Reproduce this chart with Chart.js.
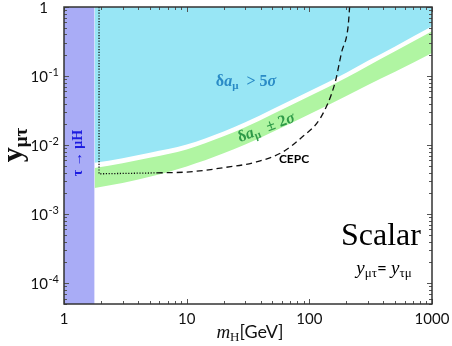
<!DOCTYPE html>
<html>
<head>
<meta charset="utf-8">
<script src="https://cdn.jsdelivr.net/npm/chart.js@4/dist/chart.umd.min.js"></script>
<style>
  html, body { margin: 0; padding: 0; background: #fff; }
</style>
</head>
<body>
<canvas id="chart" width="452" height="346"></canvas>
<script>
// kinematic bound tau -> mu H
const tauMass = 1.777;

// band boundaries (m_H in GeV)
const bandMass = [1.777, 3, 5, 10, 20, 30, 50, 100, 200, 300, 500, 1000];
const excl5Sigma = [5.53e-3, 6.46e-3, 7.76e-3, 1.02e-2, 1.58e-2, 2.14e-2, 3.31e-2, 6.03e-2, 0.112, 0.166, 0.269, 0.525];
const band2SigmaHigh = [4.68e-3, 5.46e-3, 6.56e-3, 8.65e-3, 1.34e-2, 1.81e-2, 2.8e-2, 5.09e-2, 9.48e-2, 0.140, 0.228, 0.444];
const band2SigmaLow = [2.4e-3, 2.82e-3, 3.47e-3, 4.9e-3, 7.6e-3, 1.02e-2, 1.55e-2, 2.79e-2, 5.13e-2, 7.41e-2, 0.115, 0.216];

// CEPC reach
const cepcDotMass = [1.93, 1.93, 5.7];
const cepcDotY = [1, 3.84e-3, 3.96e-3];
const cepcMass = [5.7, 10.6, 19.8, 37, 61, 86, 125, 162, 183, 207, 213];
const cepcY = [3.96e-3, 4.1e-3, 4.7e-3, 5.7e-3, 8.0e-3, 1.28e-2, 2.58e-2, 0.080, 0.219, 0.52, 1];

const xTicks = [1, 10, 100, 1000];
const yTicks = [1, 1e-1, 1e-2, 1e-3, 1e-4];
const yTickExp = ['', '-1', '-2', '-3', '-4'];

const pts = (xs, ys) => xs.map((x, i) => ({ x, y: ys[i] }));

const SERIF = '"Liberation Serif", "DejaVu Serif", serif';
const SANS = 'Lato, "Open Sans", sans-serif';

function richText(ctx, parts, x, y, align) {
    let w = 0;
    parts.forEach(p => { ctx.font = p[1]; w += ctx.measureText(p[0]).width; });
    let cx = align === 'center' ? x - w / 2 : align === 'right' ? x - w : x;
    ctx.textAlign = 'left';
    parts.forEach(p => {
        ctx.font = p[1];
        ctx.fillText(p[0], cx, y + (p[2] || 0));
        cx += ctx.measureText(p[0]).width;
    });
}

const frame = {
    id: 'frame',
    afterDatasetsDraw(chart) {
        const { ctx, chartArea: a, scales: { x, y } } = chart;
        ctx.save();
        ctx.strokeStyle = '#555';
        ctx.lineWidth = 1;
        ctx.beginPath();
        for (let d = 0; d <= 3; d++) {
            for (let k = 1; k <= 9; k++) {
                const v = k * Math.pow(10, d);
                if (v > 1000) break;
                const px = Math.round(x.getPixelForValue(v)) + 0.5;
                const len = k === 1 ? 5 : 3;
                ctx.moveTo(px, a.bottom); ctx.lineTo(px, a.bottom - len);
                ctx.moveTo(px, a.top); ctx.lineTo(px, a.top + len);
            }
        }
        for (let d = -5; d <= 0; d++) {
            for (let k = 1; k <= 9; k++) {
                const v = k * Math.pow(10, d);
                if (v < 5e-5 || v > 1) continue;
                const py = Math.round(y.getPixelForValue(v)) + 0.5;
                const len = k === 1 ? 5 : 3;
                ctx.moveTo(a.left, py); ctx.lineTo(a.left + len, py);
                ctx.moveTo(a.right, py); ctx.lineTo(a.right - len, py);
            }
        }
        ctx.stroke();
        ctx.strokeStyle = '#333';
        ctx.lineWidth = 1.5;
        ctx.strokeRect(a.left, a.top, a.right - a.left, a.bottom - a.top);
        ctx.restore();
    }
};

const labels = {
    id: 'labels',
    afterDraw(chart) {
        const { ctx, scales: { x, y } } = chart;
        ctx.save();
        ctx.fillStyle = '#111';
        ctx.textBaseline = 'alphabetic';

        // tick labels
        xTicks.forEach(v => {
            richText(ctx, [[String(v), '15px ' + SANS]], x.getPixelForValue(v), 324, 'center');
        });
        yTicks.forEach((v, i) => {
            const py = y.getPixelForValue(v) + 5.5;
            if (i === 0) {
                richText(ctx, [['1', '15px ' + SANS]], 48, py, 'right');
            } else {
                ctx.font = '15px ' + SANS;
                ctx.textAlign = 'right';
                ctx.fillText('10', 48, py);
                ctx.font = '11px ' + SANS;
                ctx.textAlign = 'left';
                ctx.fillText(yTickExp[i], 48.5, py - 6);
            }
        });

        // axis titles
        richText(ctx, [
            ['m', 'italic 19px ' + SERIF],
            ['H', '13px ' + SERIF, 3],
            ['[GeV]', '18px ' + SANS]
        ], 250, 338, 'center');

        ctx.save();
        ctx.translate(22, 145);
        ctx.rotate(-Math.PI / 2);
        richText(ctx, [
            ['y', 'bold 30px ' + SERIF],
            ['μτ', 'bold 19px ' + SERIF, 5]
        ], 0, 0, 'center');
        ctx.restore();

        // region labels
        ctx.save();
        ctx.fillStyle = '#1c1ce0';
        ctx.translate(82, 153);
        ctx.rotate(-Math.PI / 2);
        richText(ctx, [['τ → μH', 'bold 14px ' + SERIF]], 0, 0, 'center');
        ctx.restore();

        ctx.fillStyle = '#2a8bc6';
        richText(ctx, [
            ['δ', 'bold 16px ' + SERIF],
            ['a', 'bold italic 16px ' + SERIF],
            ['μ', 'bold 11px ' + SERIF, 3],
            ['  > 5', 'bold 16px ' + SERIF],
            ['σ', 'bold italic 16px ' + SERIF]
        ], 246, 86, 'center');

        ctx.save();
        ctx.fillStyle = '#2e9a48';
        ctx.translate(266, 127);
        ctx.rotate(-0.36);
        richText(ctx, [
            ['δ', 'bold 16px ' + SERIF],
            ['a', 'bold italic 16px ' + SERIF],
            ['μ', 'bold 11px ' + SERIF, 3],
            ['  ± 2', 'bold 16px ' + SERIF],
            ['σ', 'bold italic 16px ' + SERIF]
        ], 0, 5, 'center');
        ctx.restore();

        ctx.fillStyle = '#000';
        richText(ctx, [['CEPC', 'bold 12px ' + SANS]], 294, 163, 'center');

        richText(ctx, [['Scalar', '32px ' + SERIF]], 381, 245, 'center');
        richText(ctx, [
            ['y', 'italic 19px ' + SERIF],
            ['μτ', '13px ' + SERIF, 3],
            ['= ', '17px ' + SANS],
            ['y', 'italic 19px ' + SERIF],
            ['τμ', '13px ' + SERIF, 3]
        ], 384, 274, 'center');

        ctx.restore();
    }
};

new Chart(document.getElementById('chart'), {
    type: 'line',
    data: {
        datasets: [
            {
                // CEPC dotted part
                data: pts(cepcDotMass, cepcDotY),
                borderColor: '#111',
                borderWidth: 1.3,
                borderDash: [1.2, 1.6],
                fill: false,
                order: 0
            },
            {
                // CEPC dashed curve
                data: pts(cepcMass, cepcY),
                borderColor: '#111',
                borderWidth: 1.3,
                borderDash: [6, 4],
                cubicInterpolationMode: 'monotone',
                fill: false,
                order: 0
            },
            {
                // delta a_mu > 5 sigma
                data: pts(bandMass, excl5Sigma),
                borderWidth: 0,
                backgroundColor: '#98e6f5',
                cubicInterpolationMode: 'monotone',
                fill: 'end',
                order: 2
            },
            {
                // delta a_mu +- 2 sigma
                data: pts(bandMass, band2SigmaHigh),
                borderWidth: 0,
                backgroundColor: '#b0f5a2',
                cubicInterpolationMode: 'monotone',
                fill: { target: 4 },
                order: 2
            },
            {
                data: pts(bandMass, band2SigmaLow),
                borderWidth: 0,
                cubicInterpolationMode: 'monotone',
                fill: false,
                order: 2
            },
            {
                // tau -> mu H
                data: pts([1, tauMass], [1, 1]),
                borderWidth: 0,
                backgroundColor: '#a9acf6',
                fill: 'start',
                order: 3
            }
        ]
    },
    options: {
        responsive: false,
        animation: false,
        layout: { padding: { left: 64, top: 7, right: 20, bottom: 42 } },
        plugins: { legend: { display: false }, tooltip: { enabled: false } },
        elements: { point: { radius: 0 } },
        scales: {
            x: { type: 'logarithmic', min: 1, max: 1000, display: false },
            y: { type: 'logarithmic', min: 5e-5, max: 1, display: false }
        }
    },
    plugins: [frame, labels]
});
</script>
</body>
</html>
